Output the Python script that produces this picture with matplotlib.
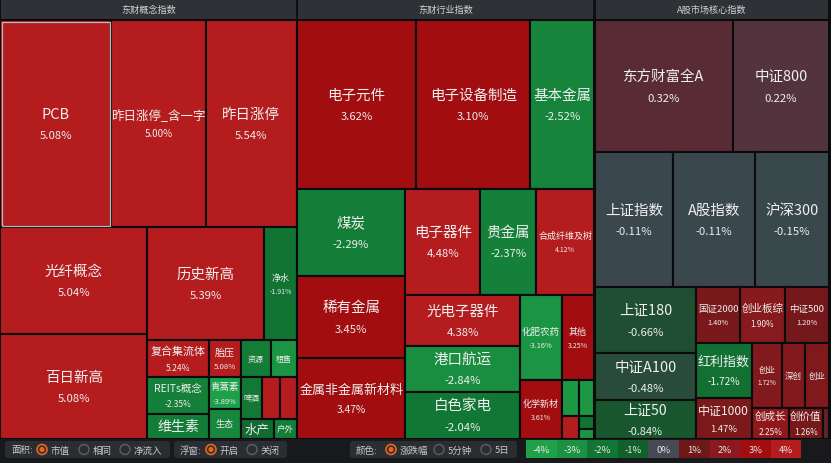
import matplotlib.pyplot as plt
from matplotlib.patches import Rectangle, FancyBboxPatch, Circle
import numpy as np

plt.rcParams['font.family'] = ['Noto Sans CJK SC', 'DejaVu Sans']

# ---- data: 东财概念指数 ----
p1_names = ['PCB', '昨日涨停_含一字', '昨日涨停', '光纤概念', '百日新高', '历史新高', '净水',
            '复合集流体', '胎压', 'REITs概念', '维生素', '青蒿素', '生态',
            '资源', '租售', '啤酒', '', '', '水产', '户外']
p1_pct = [5.08, 5.00, 5.54, 5.04, 5.08, 5.39, -1.91,
          5.24, 5.08, -2.35, -2.20, -3.89, -2.60,
          -2.20, -3.20, -2.10, 5.00, 5.00, -1.50, -2.30]
p1_size = [22977, 19458, 18837, 15729, 15435, 13108, 3729,
           2257, 1184, 2257, 1525, 1024, 960,
           1110, 962, 882, 756, 714, 660, 460]

# ---- data: 东财行业指数 ----
p2_names = ['电子元件', '电子设备制造', '基本金属', '煤炭', '稀有金属', '金属非金属新材料',
            '电子器件', '贵金属', '合成纤维及树', '光电子器件', '港口航运', '白色家电',
            '化肥农药', '其他', '化学新材', '', '', '', '', '']
p2_pct = [3.62, 3.10, -2.52, -2.29, 3.45, 3.47,
          4.48, -2.37, 4.12, 4.38, -2.84, -2.04,
          -3.16, 3.25, 3.61, -3.30, 4.20, -3.30, -1.80, -3.10]
p2_size = [19824, 18984, 10584, 9309, 8667, 8667,
           7770, 5880, 5985, 5814, 5130, 5358,
           3485, 2720, 2419, 595, 391, 525, 195, 150]

# ---- data: A股市场核心指数 ----
p3_names = ['东方财富全A', '中证800', '上证指数', 'A股指数', '沪深300', '上证180', '中证A100',
            '上证50', '国证2000', '创业板综', '中证500', '红利指数', '中证1000',
            '创业', '深创', '创业', '创成长', '创价值', '']
p3_pct = [0.32, 0.22, -0.11, -0.11, -0.15, -0.66, -0.48,
          -0.84, 1.40, 1.90, 1.20, -1.72, 1.47,
          1.72, 1.70, 1.60, 2.25, 1.26, 0.60]
p3_size = [17947, 12576, 10374, 10773, 9842, 6633, 4653,
           3861, 2464, 2464, 2464, 3025, 2255,
           1920, 1472, 1536, 1147, 1054, 186]

panel_titles = ['东财概念指数', '东财行业指数', 'A股市场核心指数']
legend_steps = [-4, -3, -2, -1, 0, 1, 2, 3, 4]

# ---- layout / style ----
# 'h' = children side by side, 'v' = children stacked
p1_tree = ('v', [('h', [0, 1, 2]),
                 ('h', [('v', [3, 4]),
                        ('v', [('h', [5, 6]),
                               ('h', [('v', [('h', [7, 8]),
                                             ('h', [('v', [9, 10]), ('v', [11, 12])])]),
                                      ('v', [('h', [13, 14]), ('h', [15, 16, 17]), ('h', [18, 19])])])])])])
p2_tree = ('v', [('h', [0, 1, 2]),
                 ('h', [('v', [3, 4, 5]),
                        ('v', [('h', [6, 7, 8]),
                               ('h', [('v', [9, 10, 11]),
                                      ('v', [('h', [12, 13]),
                                             ('h', [14, ('v', [15, 16]), ('v', [17, 18, 19])])])])])])])
p3_tree = ('v', [('h', [0, 1]),
                 ('h', [2, 3, 4]),
                 ('h', [('v', [5, 6, 7]),
                        ('v', [('h', [8, 9, 10]),
                               ('h', [('v', [11, 12]),
                                      ('v', [('h', [13, 14, 15]), ('h', [16, 17, 18])])])])])])

p1_font = [14.5, 12.5, 14.5, 14.5, 14.5, 14.5, 9, 11, 10, 10.5, 14, 9.5, 9,
           8, 8, 8, 0, 0, 12.5, 8.5]
p2_font = [14.5, 14.5, 14.5, 14.5, 14.5, 13, 14.5, 14.5, 9, 14.5, 14.5, 14.5,
           9.5, 9, 9, 0, 0, 0, 0, 0]
p3_font = [14.5, 14.5, 14.5, 14.5, 14.5, 14.5, 14.5, 14, 9.5, 10.5, 9.5, 13, 12,
           8.5, 8.5, 8.5, 10.5, 10.5, 0]
p1_name_only = [10, 12, 13, 14, 15, 18, 19]
p2_name_only = []
p3_name_only = [14, 15]

panel_boxes = [(0, 21, 297, 419), (297, 21, 297, 419), (595, 21, 234, 419)]

anchors = [(-4.0, (31, 161, 74)), (-3.0, (26, 146, 66)), (-2.0, (17, 118, 52)),
           (-1.0, (18, 96, 44)), (-0.7, (29, 78, 48)), (-0.1, (58, 71, 77)),
           (0.0, (69, 74, 85)), (0.3, (88, 44, 53)), (1.0, (110, 24, 26)),
           (2.0, (138, 26, 29)), (3.0, (162, 13, 16)), (3.9, (162, 13, 16)),
           (4.0, (180, 28, 30))]


def pct_color(v):
    xs = [a[0] for a in anchors]
    v = min(max(v, xs[0]), xs[-1])
    rgb = [np.interp(v, xs, [a[1][k] for a in anchors]) / 255 for k in range(3)]
    return tuple(rgb)


def weight(node, sizes):
    if isinstance(node, int):
        return sizes[node]
    return sum(weight(c, sizes) for c in node[1])


def layout(node, x, y, w, h, sizes, out):
    if isinstance(node, int):
        out[node] = (x, y, w, h)
        return
    orient, kids = node
    total = weight(node, sizes)
    pos = 0.0
    for k in kids:
        f = weight(k, sizes) / total
        if orient == 'h':
            layout(k, x + pos * w, y, f * w, h, sizes, out)
        else:
            layout(k, x, y + pos * h, w, f * h, sizes, out)
        pos += f


def px(v):
    return v * 0.72


fig = plt.figure(figsize=(8.31, 4.64), dpi=100, facecolor='#0e0f10')
ax = fig.add_axes([0, 0, 1, 1])
ax.set_xlim(0, 831)
ax.set_ylim(464, 0)
ax.axis('off')

panels = [(p1_names, p1_pct, p1_size, p1_tree, p1_font, p1_name_only),
          (p2_names, p2_pct, p2_size, p2_tree, p2_font, p2_name_only),
          (p3_names, p3_pct, p3_size, p3_tree, p3_font, p3_name_only)]

for pi, (names, pct, sizes, tree, fonts, name_only) in enumerate(panels):
    bx, by, bw, bh = panel_boxes[pi]
    # header
    ax.add_patch(Rectangle((bx + 0.5, 0), bw - 1.5, 20, facecolor='#2e3236', edgecolor='none'))
    ax.text(bx + bw / 2, 10.5, panel_titles[pi], ha='center', va='center',
            fontsize=px(9.2), color='#d4d4d4')
    rects = {}
    layout(tree, bx, by, bw, bh, sizes, rects)
    for i in range(len(names)):
        x, y, w, h = rects[i]
        ax.add_patch(Rectangle((x, y), w, h, facecolor=pct_color(pct[i]),
                               edgecolor='#0b0b0b', linewidth=1.5))
        if not names[i]:
            continue
        cx, cy = x + w / 2, y + h / 2
        fs = fonts[i]
        if i in name_only:
            ax.text(cx, cy, names[i], ha='center', va='center', fontsize=px(fs), color='#eeeeee')
        else:
            ax.text(cx, cy - 0.68 * fs, names[i], ha='center', va='center',
                    fontsize=px(fs), color='#f0f0f0')
            ax.text(cx, cy + 0.8 * fs, '%.2f%%' % pct[i], ha='center', va='center',
                    fontsize=px(min(0.78 * fs, 11.3)), color='#eeeeee')
    if pi == 0:
        x, y, w, h = rects[0]
        ax.add_patch(Rectangle((x + 1.5, y + 1.5), w - 3, h - 3, facecolor='none',
                               edgecolor='#b8b8b8', linewidth=0.9))

# ---- bottom control bar ----
ax.add_patch(Rectangle((0, 440), 831, 24, facecolor='#17191c', edgecolor='none'))


def box(x0, x1):
    ax.add_patch(FancyBboxPatch((x0, 442), x1 - x0, 17, boxstyle='round,pad=0,rounding_size=3',
                                facecolor='#2a2d31', edgecolor='none'))


def radio(x, on):
    if on:
        ax.add_patch(Circle((x, 450.5), 5, facecolor='none', edgecolor='#e8671d', linewidth=1.2))
        ax.add_patch(Circle((x, 450.5), 2.6, facecolor='#e8671d', edgecolor='none'))
    else:
        ax.add_patch(Circle((x, 450.5), 5, facecolor='none', edgecolor='#5c6066', linewidth=1.0))


def label(x, s):
    ax.text(x, 451, s, ha='left', va='center', fontsize=px(9.5), color='#c9c9c9')


box(5, 170)
label(11, '面积:')
radio(42, True)
label(51, '市值')
radio(84, False)
label(93, '相同')
radio(125, False)
label(134, '净流入')

box(174, 287)
label(180, '浮窗:')
radio(211, True)
label(220, '开启')
radio(252, False)
label(261, '关闭')

box(350, 517)
label(356, '颜色:')
radio(391, True)
label(400, '涨跌幅')
radio(439, False)
label(448, '5分钟')
radio(486, False)
label(495, '5日')

cell_w = 30.6
for k, s in enumerate(legend_steps):
    x0 = 526 + k * cell_w
    ax.add_patch(Rectangle((x0, 441), cell_w, 18, facecolor=pct_color(s), edgecolor='none'))
    ax.text(x0 + cell_w / 2, 450.5, '%d%%' % s, ha='center', va='center',
            fontsize=px(9.5), color='#e6e6e6')

fig.savefig('out.png', dpi=100, facecolor=fig.get_facecolor())
